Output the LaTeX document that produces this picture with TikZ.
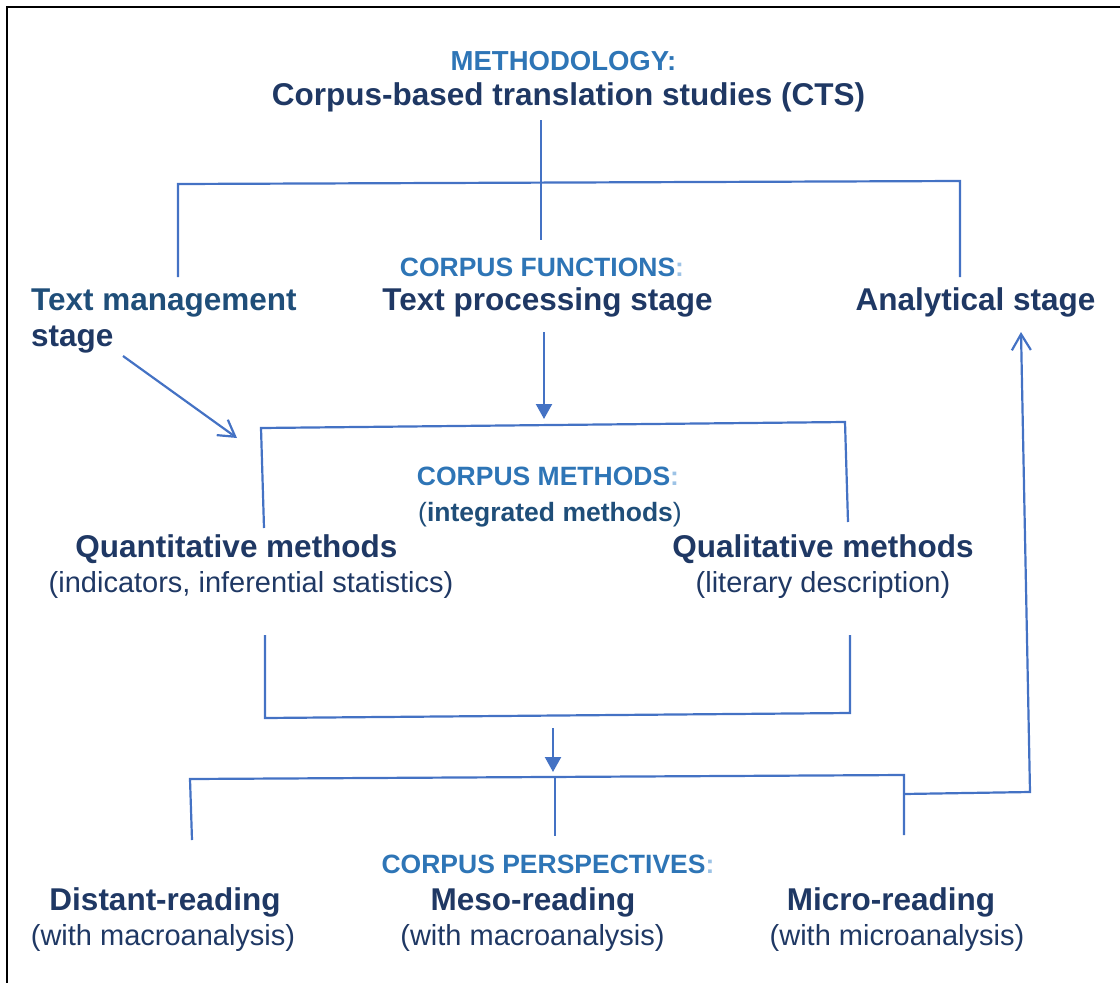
\documentclass[tikz,border=0pt]{standalone}
\usepackage{fontspec}
\setmainfont{Liberation Sans}
\usetikzlibrary{arrows.meta}
\definecolor{navy}{RGB}{31,56,100}
\definecolor{steel}{RGB}{31,78,121}
\definecolor{lblue}{RGB}{46,117,182}
\definecolor{pale}{RGB}{157,195,230}
\definecolor{lineblue}{RGB}{68,114,196}
\begin{document}
\begin{tikzpicture}[x=1pt,y=-1pt,
  big/.style={font=\fontsize{31.5}{36}\selectfont\bfseries, text=navy, inner sep=0pt, anchor=base},
  sub/.style={font=\fontsize{29}{32}\selectfont, text=navy, inner sep=0pt, anchor=base},
  lab/.style={font=\fontsize{26.5}{30}\selectfont\bfseries, text=lblue, inner sep=0pt, anchor=base},
  conn/.style={draw=lineblue, line width=2.2pt},
  fillarrow/.style={-{Triangle[width=16pt,length=15pt]}},
  openarrow/.style={-{Straight Barb[length=16pt,width=19pt,line width=2.2pt]}}
]
\useasboundingbox (0,0) rectangle (1120,983);
\draw[black, line width=1.5pt] (7,983) -- (7,7) -- (1120,7);

% texts
\node[lab, font=\fontsize{27.5}{30}\selectfont\bfseries] (meth) at (563.5,70) {METHODOLOGY:};
\node[big] (cts) at (568.5,105) {Corpus-based translation studies (CTS)};
\node[lab] (func) at (542,276) {CORPUS FUNCTIONS\textcolor{pale}{:}};
\node[big] (proc) at (547.5,310) {Text processing stage};
\node[big, anchor=base west, text=steel] (mgmt) at (31,310) {Text management};
\node[big, anchor=base west] (mgmt2) at (31,346) {stage};
\node[big] (anal) at (975.5,310) {Analytical stage};
\node[lab] (cm) at (548,485) {CORPUS METHODS\textcolor{pale}{:}};
\node[inner sep=0pt, anchor=base, text=steel, font=\fontsize{26.5}{30}\selectfont] (integ) at (550,521) {(\textbf{integrated methods})};
\node[big] (quant) at (236.5,557) {Quantitative methods};
\node[sub] (quants) at (251,592) {(indicators, inferential statistics)};
\node[big] (qual) at (823,557) {Qualitative methods};
\node[sub] (quals) at (823,592) {(literary description)};
\node[lab] (persp) at (548,873) {CORPUS PERSPECTIVES\textcolor{pale}{:}};
\node[big] (dist) at (165,910) {Distant-reading};
\node[sub] (dists) at (163,945) {(with macroanalysis)};
\node[big] (meso) at (533,910) {Meso-reading};
\node[sub] (mesos) at (532.5,945) {(with macroanalysis)};
\node[big] (micro) at (891,910) {Micro-reading};
\node[sub] (micros) at (897,945) {(with microanalysis)};

% coordinates
\coordinate (t0) at (541,120);
\coordinate (t1) at (541,181);
\coordinate (hl) at (178,184);
\coordinate (hr) at (960,181);
\coordinate (l1) at (178,277);
\coordinate (m1) at (541,240);
\coordinate (r1) at (960,277);
\coordinate (a0) at (123,356);
\coordinate (a1) at (237,438);
\coordinate (p0) at (544,332);
\coordinate (p1) at (544,419);
\coordinate (bl) at (261,428);
\coordinate (br) at (845,422);
\coordinate (bl1) at (264,528);
\coordinate (br1) at (848,522);
\coordinate (cl0) at (265,635);
\coordinate (cl1) at (265,718);
\coordinate (cr0) at (850,635);
\coordinate (cr1) at (850,713);
\coordinate (d0) at (553,728);
\coordinate (d1) at (553,772);
\coordinate (el) at (190,779);
\coordinate (er) at (904,775);
\coordinate (e1) at (192,840);
\coordinate (em0) at (555,778);
\coordinate (em1) at (555,836);
\coordinate (er1) at (904,835);
\coordinate (f0) at (904,794);
\coordinate (f1) at (1030,792);
\coordinate (f2) at (1021,332);

% connectors
\draw[conn] (t0) -- (t1);
\draw[conn] (l1) -- (hl) -- (hr) -- (r1);
\draw[conn] (t1) -- (m1);
\draw[conn, openarrow] (a0) -- (a1);
\draw[conn, fillarrow] (p0) -- (p1);
\draw[conn] (bl1) -- (bl) -- (br) -- (br1);
\draw[conn] (cl0) -- (cl1) -- (cr1) -- (cr0);
\draw[conn, fillarrow] (d0) -- (d1);
\draw[conn] (e1) -- (el) -- (er) -- (er1);
\draw[conn] (em0) -- (em1);
\draw[conn, openarrow] (f0) -- (f1) -- (f2);
\end{tikzpicture}
\end{document}
